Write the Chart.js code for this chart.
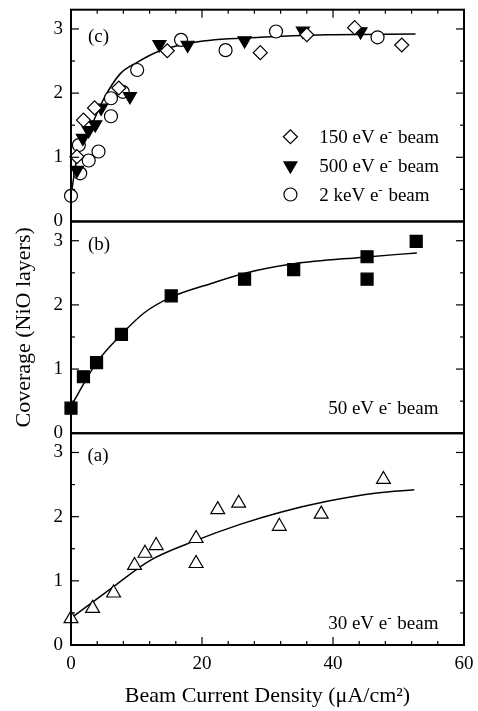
<!DOCTYPE html>
<html>
<head>
<meta charset="utf-8">
<script src="https://cdn.jsdelivr.net/npm/chart.js@4.4.0/dist/chart.umd.min.js"></script>
<style>
  html, body { margin: 0; padding: 0; background: #fff; }
</style>
</head>
<body>
<canvas id="myChart" width="478" height="711"></canvas>
<script>
// panel (c): 150 eV, 500 eV, 2 keV
const diamondX = [0.9, 1.9, 3.6, 7.3, 14.7, 28.9, 36.0, 43.3, 50.5];
const diamondY = [1.01, 1.58, 1.77, 2.08, 2.66, 2.63, 2.91, 3.02, 2.75];
const triDownX = [0.9, 1.8, 2.7, 3.7, 4.6, 9.0, 13.5, 17.8, 26.5, 35.4, 44.2];
const triDownY = [0.80, 1.30, 1.42, 1.51, 1.77, 1.95, 2.76, 2.75, 2.82, 2.97, 2.96];
const circleX = [0, 1.2, 1.4, 2.7, 4.2, 6.1, 6.1, 7.9, 10.1, 16.8, 23.6, 31.3, 46.8];
const circleY = [0.40, 1.19, 0.75, 0.95, 1.09, 1.64, 1.92, 2.02, 2.36, 2.83, 2.67, 2.96, 2.87];
const fitCX = [0, 0.9, 2.95, 5.0, 7.5, 10.1, 13.6, 18.7, 28.9, 39.1, 52.6];
const fitCY = [0.40, 0.98, 1.45, 1.91, 2.30, 2.48, 2.66, 2.79, 2.87, 2.91, 2.92];

// panel (b): 50 eV
const squareX = [0, 1.9, 3.9, 7.7, 15.3, 26.5, 34.0, 45.2, 45.2, 52.7];
const squareY = [0.39, 0.88, 1.10, 1.54, 2.14, 2.40, 2.55, 2.75, 2.40, 2.99];
const fitBX = [0, 3.9, 7.7, 11.1, 15.3, 21.3, 26.4, 34.0, 44.2, 52.8];
const fitBY = [0.42, 1.10, 1.54, 1.87, 2.12, 2.33, 2.49, 2.64, 2.74, 2.81];

// panel (a): 30 eV
const triUpX = [0, 3.3, 6.5, 9.7, 11.3, 13.0, 19.1, 19.1, 22.4, 25.6, 31.8, 38.2, 47.7];
const triUpY = [0.41, 0.57, 0.81, 1.24, 1.43, 1.55, 1.66, 1.27, 2.11, 2.21, 1.85, 2.04, 2.58];
const fitAX = [0, 6.5, 12.1, 19.1, 25.8, 32.0, 39.1, 46.7, 52.4];
const fitAY = [0.42, 0.91, 1.32, 1.63, 1.88, 2.07, 2.24, 2.37, 2.42];

const xTicks = [0, 20, 40, 60];
const yTicks = [0, 1, 2, 3];
const yMinor = [0, 0.5, 1, 1.5, 2, 2.5, 3];

const serif = '"Liberation Serif", "Times New Roman", serif';
const pts = (xs, ys) => xs.map((x, i) => ({ x: x, y: ys[i] }));

function markers(label, xs, ys, axis, style, filled, r, rot) {
  return {
    label: label, data: pts(xs, ys), yAxisID: axis,
    pointStyle: style, pointRadius: r, pointRotation: rot || 0,
    pointBorderWidth: 1.2, pointBorderColor: '#000',
    pointBackgroundColor: filled ? '#000' : '#fff',
    showLine: false, clip: false
  };
}
function fit(xs, ys, axis) {
  return {
    data: pts(xs, ys), yAxisID: axis, showLine: true, pointRadius: 0,
    borderColor: '#000', borderWidth: 1.5, cubicInterpolationMode: 'monotone',
    clip: false
  };
}

function yScale(weight, title) {
  return {
    type: 'linear', position: 'left', stack: 'panels', stackWeight: 1, weight: weight,
    min: 0, max: 3.3,
    afterBuildTicks: s => { s.ticks = yMinor.map(v => ({ value: v })); },
    ticks: {
      padding: 8, color: '#000', font: { family: serif, size: 19 },
      callback: v => (yTicks.includes(v) ? v : '')
    },
    grid: { display: false, drawTicks: false, tickLength: 0 },
    border: { display: false },
    title: title ? { display: true, text: title, color: '#000',
      font: { family: serif, size: 22 }, padding: { top: 11, bottom: 0 } } : { display: false },
    afterFit: s => { s.width = 71; s.paddingTop = 0; s.paddingBottom = 0; }
  };
}

function superLabel(ctx, x, y, energy, alignRight) {
  const a = energy + ' e', b = '-', c = ' beam';
  ctx.font = '19px ' + serif;
  const wa = ctx.measureText(a).width, wc = ctx.measureText(c).width;
  ctx.font = '13px ' + serif;
  const wb = ctx.measureText(b).width + 1;
  const x0 = alignRight ? x - (wa + wb + wc) : x;
  ctx.textAlign = 'left';
  ctx.textBaseline = 'alphabetic';
  ctx.font = '19px ' + serif;
  ctx.fillText(a, x0, y);
  ctx.font = '13px ' + serif;
  ctx.fillText(b, x0 + wa, y - 7);
  ctx.font = '19px ' + serif;
  ctx.fillText(c, x0 + wa + wb, y);
}

const framePlugin = {
  id: 'frame',
  beforeDraw(chart) {
    const ctx = chart.ctx;
    ctx.save();
    ctx.fillStyle = '#fff';
    ctx.fillRect(0, 0, chart.width, chart.height);
    ctx.restore();
  },
  afterDatasetsDraw(chart) {
    const ctx = chart.ctx, a = chart.chartArea, xs = chart.scales.x;
    const yC = chart.scales.yC, yB = chart.scales.yB, yA = chart.scales.yA;
    const seg = (x1, y1, x2, y2) => { ctx.beginPath(); ctx.moveTo(x1, y1); ctx.lineTo(x2, y2); ctx.stroke(); };
    ctx.save();
    ctx.strokeStyle = '#000';
    ctx.fillStyle = '#000';
    ctx.lineWidth = 1.2;
    [yC, yB, yA].forEach(s => {
      yMinor.forEach(v => {
        const py = s.getPixelForValue(v);
        const len = yTicks.includes(v) ? 8 : 4;
        seg(a.left, py, a.left + len, py);
        seg(a.right, py, a.right - len, py);
      });
    });
    xs.ticks.forEach(t => {
      const px = xs.getPixelForValue(t.value);
      const len = xTicks.includes(t.value) ? 8 : 4;
      seg(px, yA.bottom, px, yA.bottom - len);
      seg(px, yC.top, px, yC.top + len);
    });
    ctx.lineWidth = 2;
    [yC, yB, yA].forEach(s => ctx.strokeRect(a.left, s.top, a.right - a.left, s.bottom - s.top));

    // panel letters
    ctx.font = '19px ' + serif;
    ctx.textAlign = 'left';
    ctx.textBaseline = 'middle';
    ctx.fillText('(c)', xs.getPixelForValue(2.6), yC.getPixelForValue(2.88));
    ctx.fillText('(b)', xs.getPixelForValue(2.6), yB.getPixelForValue(2.94));
    ctx.fillText('(a)', xs.getPixelForValue(2.5), yA.getPixelForValue(2.95));

    // legend of panel (c)
    const rows = [
      { e: '150 eV', style: 'rectRot', fill: false, r: 7, rot: 0, v: 1.32 },
      { e: '500 eV', style: 'triangle', fill: true, r: 7.5, rot: 180, v: 0.87 },
      { e: '2 keV', style: 'circle', fill: false, r: 6.5, rot: 0, v: 0.42 }
    ];
    rows.forEach(row => {
      const mx = xs.getPixelForValue(33.5), my = yC.getPixelForValue(row.v);
      ctx.lineWidth = 1.2;
      ctx.fillStyle = row.fill ? '#000' : '#fff';
      Chart.helpers.drawPoint(ctx, { pointStyle: row.style, radius: row.r, rotation: row.rot, borderWidth: 1.2 }, mx, my);
      ctx.fillStyle = '#000';
      superLabel(ctx, xs.getPixelForValue(37.9), my + 6, row.e, false);
    });

    superLabel(ctx, xs.getPixelForValue(56.1), yB.getPixelForValue(0.40) + 6, '50 eV', true);
    superLabel(ctx, xs.getPixelForValue(56.1), yA.getPixelForValue(0.34) + 6, '30 eV', true);
    ctx.restore();
  }
};

const canvas = document.getElementById('myChart');
const ctx = canvas.getContext('2d');

var myChart = new Chart(ctx, {
  type: 'scatter',
  data: {
    datasets: [
      markers('150 eV', diamondX, diamondY, 'yC', 'rectRot', false, 7),
      markers('500 eV', triDownX, triDownY, 'yC', 'triangle', true, 7.5, 180),
      markers('2 keV', circleX, circleY, 'yC', 'circle', false, 6.5),
      markers('50 eV', squareX, squareY, 'yB', 'rect', true, 8.5),
      markers('30 eV', triUpX, triUpY, 'yA', 'triangle', false, 8),
      fit(fitCX, fitCY, 'yC'),
      fit(fitBX, fitBY, 'yB'),
      fit(fitAX, fitAY, 'yA')
    ]
  },
  options: {
    responsive: false,
    animation: false,
    layout: { padding: { top: 8, right: 14, left: 0, bottom: 0 } },
    plugins: { legend: { display: false }, tooltip: { enabled: false } },
    scales: {
      x: {
        type: 'linear', min: 0, max: 60,
        ticks: {
          stepSize: 4, autoSkip: false, maxRotation: 0, padding: 8, color: '#000',
          font: { family: serif, size: 19 },
          callback: v => (xTicks.includes(v) ? v : '')
        },
        grid: { display: false, drawTicks: false, tickLength: 0 },
        border: { display: false },
        title: {
          display: true, text: 'Beam Current Density (\u03bcA/cm\u00b2)', color: '#000',
          font: { family: serif, size: 22 }, padding: { top: 0, bottom: 2 }
        },
        afterFit: s => { s.height = 66; s.paddingLeft = 0; s.paddingRight = 0; }
      },
      yA: yScale(1, null),
      yB: yScale(2, 'Coverage (NiO layers)'),
      yC: yScale(3, null)
    }
  },
  plugins: [framePlugin]
});
</script>
</body>
</html>
